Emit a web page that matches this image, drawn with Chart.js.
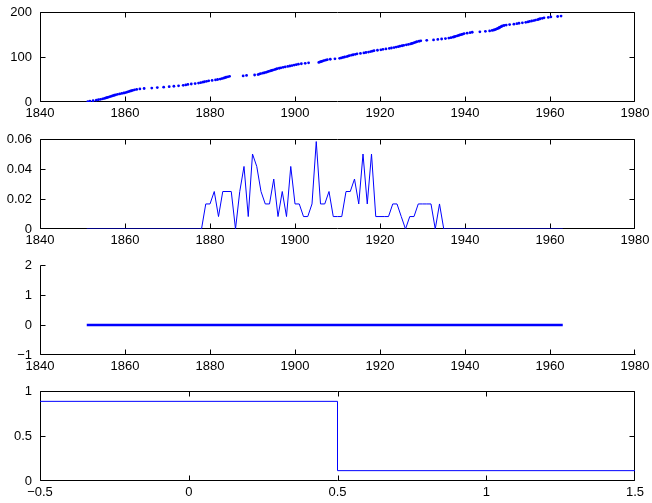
<!DOCTYPE html>
<html><head><meta charset="utf-8">
<script src="https://cdn.jsdelivr.net/npm/chart.js@4.4.1/dist/chart.umd.min.js"></script>
<style>
html,body{margin:0;padding:0;background:#fff;}
#wrap{position:relative;width:652px;height:503px;overflow:hidden;background:#fff;}
canvas{position:absolute;left:0;}
</style></head><body>
<div id="wrap">
<canvas id="c1" width="652" height="126" style="top:2px"></canvas>
<canvas id="c2" width="652" height="126" style="top:129px"></canvas>
<canvas id="c3" width="652" height="126" style="top:255px"></canvas>
<canvas id="c4" width="652" height="126" style="top:381px"></canvas>
</div>
<script>
// ---- Panel 1: cumulative count of events (dates) ----
const eventYears = [
1851.25,1851.75,1852.5,1853.25,1853.75,1854.25,1854.75,
1855.17,1855.5,1855.83,1856.17,1856.5,1856.83,1857.17,1857.5,1857.83,
1858.25,1858.75,1859.25,1859.75,1860.17,1860.5,1860.83,1861.17,1861.5,1861.83,
1862.25,1862.75,1863.5,1864.5,1866.3,1867.6,1869.1,1870.4,1871.5,1872.6,1873.7,
1874.3,1874.8,1875.6,1876.5,1877.3,1877.8,1878.3,1878.7,1879.2,1879.7,1880.5,
1881.3,1881.8,1882.4,1882.8,1883.2,1883.5,1883.8,1884.2,1884.6,1887.8,1888.6,
1890.5,1891.3,1891.6,1891.9,1892.4,1892.8,1893.2,1893.5,1893.8,1894.2,1894.5,1894.8,
1895.2,1895.5,1895.8,1896.3,1896.7,1897.2,1897.7,1898.3,1898.8,1899.3,1899.8,
1900.3,1900.8,1901.5,1902.4,1903.2,1905.6,1905.9,1906.2,1906.5,1906.8,1907.2,1907.6,
1908.3,1909.4,1910.5,1910.9,1911.3,1911.7,1912.2,1912.5,1912.8,1913.3,1913.7,
1914.2,1914.6,1915.4,1916.2,1916.7,1917.3,1917.8,1918.2,1918.6,1919.4,1920.2,1920.7,
1921.4,1922.2,1922.7,1923.3,1923.8,1924.3,1924.7,1925.2,1925.6,1926.2,1926.7,
1927.2,1927.5,1927.8,1928.1,1928.4,1928.7,1929.2,1929.6,1931.0,1932.6,1933.6,
1934.5,1935.4,1936.2,1936.7,1937.2,1937.5,1937.8,1938.2,1938.5,1938.8,
1939.2,1939.5,1939.8,1940.5,1941.2,1941.7,1943.5,1944.8,1945.8,1946.4,1946.8,
1947.1,1947.35,1947.6,1947.85,1948.05,1948.2,1948.4,1948.6,1948.8,1949.2,1949.7,
1950.5,1951.5,1952.2,1952.7,1953.5,1954.3,1954.8,1955.2,1955.7,1956.2,1956.6,
1957.1,1957.4,1957.7,1958.2,1958.6,1959.6,1960.2,1961.8,1962.6
];
const eventCounts = [
1,2,3,4,5,6,7,8,9,10,11,12,13,14,15,16,17,18,19,20,
21,22,23,24,25,26,27,28,29,30,31,32,33,34,35,36,37,38,39,40,
41,42,43,44,45,46,47,48,49,50,51,52,53,54,55,56,57,58,59,60,
61,62,63,64,65,66,67,68,69,70,71,72,73,74,75,76,77,78,79,80,
81,82,83,84,85,86,87,88,89,90,91,92,93,94,95,96,97,98,99,100,
101,102,103,104,105,106,107,108,109,110,111,112,113,114,115,116,117,118,119,120,
121,122,123,124,125,126,127,128,129,130,131,132,133,134,135,136,137,138,139,140,
141,142,143,144,145,146,147,148,149,150,151,152,153,154,155,156,157,158,159,160,
161,162,163,164,165,166,167,168,169,170,171,172,173,174,175,176,177,178,179,180,
181,182,183,184,185,186,187,188,189,190,191
];

// ---- Panel 2: per-year probability ----
const probYears = [1851,
1878,1879,1880,1881,1882,1883,1884,1885,1886,1887,1888,1889,1890,1891,1892,1893,1894,1895,1896,1897,
1898,1899,1900,1901,1902,1903,1904,1905,1906,1907,1908,1909,1910,1911,1912,1913,1914,1915,1916,1917,
1918,1919,1920,1921,1922,1923,1924,1925,1926,1927,1928,1929,1930,1931,1932,1933,1934,1935,1963];
const probValues = [0,
0,0.0167,0.0167,0.025,0.0083,0.025,0.025,0.025,0,0.025,0.0417,0.0083,0.05,0.0417,0.025,0.0167,0.0167,0.0333,0.0083,0.025,
0.0083,0.0417,0.0167,0.0167,0.0083,0.0083,0.0167,0.0583,0.0167,0.0167,0.025,0.0083,0.0083,0.0083,0.025,0.025,0.0333,0.0167,0.05,0.0167,
0.05,0.0083,0.0083,0.0083,0.0083,0.0167,0.0167,0.0083,0,0.0083,0.0083,0.0167,0.0167,0.0167,0.0167,0,0.0167,0,0];

// ---- Panel 3: flat series ----
const flatYears = [1851, 1963];
const flatValues = [0, 0];

// ---- Panel 4: step histogram ----
const stepX = [-0.5, 0.5, 1.5];
const stepY = [0.885, 0.115, 0.115];

const FONT = {family:"'Liberation Sans', Arial, Helvetica, sans-serif", size:13};
const BLUE = '#0000ff';

const axesBox = {
  id:'axesBox',
  beforeDatasetsDraw(chart, args, opts){
    const {ctx, chartArea:a, scales:{x,y}} = chart;
    ctx.save();
    ctx.strokeStyle = '#000'; ctx.lineWidth = 1;
    const L = Math.round(a.left)+0.5, R = Math.round(a.right)-0.5, T = Math.round(a.top)+0.5, B = Math.round(a.bottom)-0.5;
    ctx.beginPath();
    if (opts.box) { ctx.rect(L, T, R-L, B-T); }
    else { ctx.moveTo(L, T); ctx.lineTo(L, B); ctx.lineTo(R+1, B); }
    ctx.stroke();
    const tl = 5;
    ctx.beginPath();
    x.ticks.forEach(t => {
      let px = Math.round(x.getPixelForValue(t.value)) + 0.5;
      if (px > R) px = R;
      ctx.moveTo(px, B); ctx.lineTo(px, B - tl);
      if (opts.box) { ctx.moveTo(px, T); ctx.lineTo(px, T + tl); }
    });
    y.ticks.forEach(t => {
      let py = Math.round(y.getPixelForValue(t.value)) + 0.5;
      if (py > B) py = B;
      ctx.moveTo(L, py); ctx.lineTo(L + tl, py);
      if (opts.box) { ctx.moveTo(R, py); ctx.lineTo(R - tl, py); }
    });
    ctx.stroke();
    ctx.restore();
  }
};

function fmt(v){ return String(Math.round(v*10000)/10000).replace('-', '\u2212'); }

function opts(xr, yr, box){
  return {
    responsive:false, animation:false, devicePixelRatio:1,
    layout:{autoPadding:false, padding:{top:10, left:0, right:17, bottom:0}},
    plugins:{legend:{display:false}, tooltip:{enabled:false}, axesBox:{box}},
    scales:{
      x:{type:'linear', min:xr[0], max:xr[1],
         ticks:{stepSize:xr[2], color:'#000', font:FONT, padding:4, maxRotation:0, autoSkip:false, callback:fmt},
         grid:{display:false, drawTicks:false}, border:{display:false},
         afterFit:s=>{ s.height = 26; s.paddingLeft = 0; s.paddingRight = 0; }},
      y:{type:'linear', min:yr[0], max:yr[1],
         ticks:{stepSize:yr[2], color:'#000', font:FONT, padding:8, autoSkip:false, callback:fmt},
         grid:{display:false, drawTicks:false}, border:{display:false},
         afterFit:s=>{ s.width = 40; s.paddingTop = 0; s.paddingBottom = 0; }}
    }
  };
}

new Chart(document.getElementById('c1'), {
  type:'scatter',
  data:{datasets:[{data:eventYears.map((v,i)=>({x:v, y:eventCounts[i]})),
    pointRadius:1.4, pointBorderWidth:0, backgroundColor:BLUE, borderColor:BLUE, showLine:false}]},
  options:opts([1840,1980,20],[0,200,100],true),
  plugins:[axesBox]
});

new Chart(document.getElementById('c2'), {
  type:'line',
  data:{datasets:[{data:probYears.map((v,i)=>({x:v, y:probValues[i]})),
    borderColor:BLUE, borderWidth:1, pointRadius:0, tension:0, fill:false}]},
  options:opts([1840,1980,20],[0,0.06,0.02],true),
  plugins:[axesBox]
});

new Chart(document.getElementById('c3'), {
  type:'line',
  data:{datasets:[{data:flatYears.map((v,i)=>({x:v, y:flatValues[i]})),
    borderColor:BLUE, borderWidth:2.5, pointRadius:0, tension:0, fill:false}]},
  options:opts([1840,1980,20],[-1,2,1],false),
  plugins:[axesBox]
});

new Chart(document.getElementById('c4'), {
  type:'line',
  data:{datasets:[{data:stepX.map((v,i)=>({x:v, y:stepY[i]})),
    borderColor:BLUE, borderWidth:1, pointRadius:0, stepped:true, fill:false}]},
  options:opts([-0.5,1.5,0.5],[0,1,0.5],true),
  plugins:[axesBox]
});
</script>
</body></html>
